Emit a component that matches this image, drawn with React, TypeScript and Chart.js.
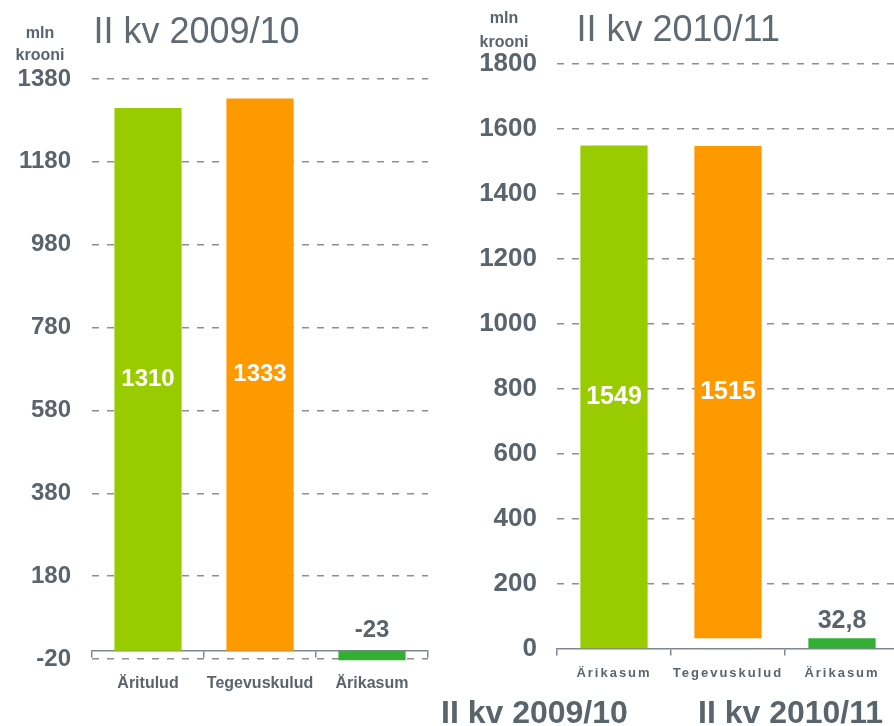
import React, { useEffect, useRef } from "react";
import { Chart, registerables } from "chart.js";

Chart.register(...registerables);

// ---- data ----
const leftCategories = ["Äritulud", "Tegevuskulud", "Ärikasum"];
const leftValues = [1310, 1333, -23];
const leftTicks = [-20, 180, 380, 580, 780, 980, 1180, 1380];
const leftLabelPlacement = ["inside", "inside", "above"];

const rightCategories = ["Ärikasum", "Tegevuskulud", "Ärikasum"];
const rightValues = [1549, 1515, 32.8];
const rightTicks = [0, 200, 400, 600, 800, 1000, 1200, 1400, 1600, 1800];
const rightLabelPlacement = ["inside", "inside", "above"];

const leftTitle = "II kv 2009/10";
const rightTitle = "II kv 2010/11";
const unitLines = ["mln", "krooni"];
const bottomLabels = ["II kv 2009/10", "II kv 2010/11"];

const barColors = ["#99cc00", "#ff9900", "#33b033"];
const TEXT = "#5a646c";
const GRID = "#8f8f8f";
const AXIS = "#7d878d";
const FONT = '"Liberation Sans", Arial, Helvetica, sans-serif';

const fmt = (v: number) => String(v).replace(".", ",");

// build floating bars from values
const leftBars = leftValues.map((v) => [0, v]);
const rightBars = [
  [0, rightValues[0]],
  [rightValues[2], rightValues[2] + rightValues[1]],
  [0, rightValues[2]],
];

const valueLabels = {
  id: "valueLabels",
  afterDatasetsDraw(chart: any, _args: any, opts: any) {
    const { ctx } = chart;
    const meta = chart.getDatasetMeta(0);
    meta.data.forEach((bar: any, i: number) => {
      const p = bar.getProps(["x", "y", "base"], true);
      const text = opts.texts[i];
      ctx.save();
      ctx.font = `bold ${opts.size}px ${FONT}`;
      ctx.textAlign = "center";
      if (opts.placement[i] === "inside") {
        ctx.fillStyle = "#ffffff";
        ctx.textBaseline = "middle";
        ctx.fillText(text, p.x, (p.y + p.base) / 2);
      } else {
        ctx.fillStyle = TEXT;
        ctx.textBaseline = "alphabetic";
        ctx.fillText(text, p.x, Math.min(p.y, p.base) - opts.offset);
      }
      ctx.restore();
    });
    if (opts.letterSpacing) ctx.letterSpacing = opts.letterSpacing;
  },
  afterDraw(chart: any) {
    chart.ctx.letterSpacing = "0px";
  },
};

function makeConfig(o: {
  categories: string[];
  bars: number[][];
  ticks: number[];
  yWidth: number;
  yFont: number;
  yPad: number;
  xFont: number;
  xPad: number;
  padding: any;
  barPct: number;
  labels: any;
}) {
  return {
    type: "bar",
    data: {
      labels: o.categories,
      datasets: [
        {
          data: o.bars,
          backgroundColor: barColors,
          borderWidth: 0,
          barPercentage: o.barPct,
          categoryPercentage: 1,
          clip: false,
        },
      ],
    },
    options: {
      responsive: false,
      animation: false,
      devicePixelRatio: 1,
      layout: { padding: o.padding },
      plugins: {
        legend: { display: false },
        tooltip: { enabled: false },
        title: { display: false },
        valueLabels: o.labels,
      },
      scales: {
        x: {
          type: "category",
          position: { y: 0 },
          offset: true,
          afterFit: (s: any) => {
            s.height = 0;
          },
          grid: {
            display: true,
            offset: true,
            drawOnChartArea: false,
            drawTicks: true,
            tickLength: 6,
            color: AXIS,
            lineWidth: 1.5,
          },
          border: { display: true, color: AXIS, width: 1.5 },
          ticks: {
            color: TEXT,
            font: { family: FONT, size: o.xFont, weight: "bold" },
            padding: o.xPad,
            maxRotation: 0,
            autoSkip: false,
            z: 1,
          },
        },
        y: {
          type: "linear",
          min: o.ticks[0],
          max: o.ticks[o.ticks.length - 1],
          afterBuildTicks: (s: any) => {
            s.ticks = o.ticks.map((v) => ({ value: v }));
          },
          afterFit: (s: any) => {
            s.width = o.yWidth;
          },
          grid: {
            drawTicks: false,
            lineWidth: 1.5,
            color: (c: any) =>
              c.tick && c.tick.value === 0 ? "rgba(0,0,0,0)" : GRID,
          },
          border: { display: false, dash: [7, 8] },
          ticks: {
            color: TEXT,
            padding: o.yPad,
            font: { family: FONT, size: o.yFont, weight: "bold" },
            callback: (v: any) => fmt(v),
          },
        },
      },
    },
    plugins: [valueLabels],
  } as any;
}

export default function App() {
  const leftRef = useRef<HTMLCanvasElement>(null);
  const rightRef = useRef<HTMLCanvasElement>(null);

  useEffect(() => {
    const left = new Chart(
      leftRef.current as HTMLCanvasElement,
      makeConfig({
        categories: leftCategories,
        bars: leftBars,
        ticks: leftTicks,
        yWidth: 92,
        yFont: 24,
        yPad: 21,
        xFont: 16,
        xPad: 17,
        padding: { top: 79, right: 19, bottom: 67, left: 0 },
        barPct: 0.6,
        labels: {
          texts: leftValues.map(fmt),
          placement: leftLabelPlacement,
          size: 24,
          offset: 14,
        },
      })
    );
    const right = new Chart(
      rightRef.current as HTMLCanvasElement,
      makeConfig({
        categories: rightCategories,
        bars: rightBars,
        ticks: rightTicks,
        yWidth: 110,
        yFont: 26,
        yPad: 20,
        xFont: 13,
        xPad: 11,
        padding: { top: 64, right: 8, bottom: 77, left: 0 },
        barPct: 0.59,
        labels: {
          texts: rightValues.map(fmt),
          placement: rightLabelPlacement,
          size: 25,
          offset: 10,
          letterSpacing: "2px",
        },
      })
    );
    return () => {
      left.destroy();
      right.destroy();
    };
  }, []);

  const abs = (s: any) => ({ position: "absolute" as const, whiteSpace: "nowrap" as const, ...s });

  return (
    <div
      style={{
        position: "absolute",
        left: 0,
        top: 0,
        width: 894,
        height: 726,
        overflow: "hidden",
        background: "#ffffff",
        fontFamily: FONT,
      }}
    >
      <canvas ref={leftRef} width={447} height={726} style={{ position: "absolute", left: 0, top: 0 }} />
      <canvas ref={rightRef} width={460} height={726} style={{ position: "absolute", left: 447, top: 0 }} />

      <div style={abs({ left: 93.5, top: 12.5, fontSize: 36, lineHeight: "36px", color: "#5f6a72" })}>{leftTitle}</div>
      <div style={abs({ left: 576.5, top: 11, fontSize: 36, lineHeight: "36px", color: "#5f6a72" })}>{rightTitle}</div>

      <div style={abs({ left: 0, width: 80, top: 21.5, fontSize: 16, lineHeight: "22px", fontWeight: "bold", color: TEXT, textAlign: "center" })}>
        {unitLines[0]}
        <br />
        {unitLines[1]}
      </div>
      <div style={abs({ left: 464, width: 80, top: 6, fontSize: 16, lineHeight: "23.5px", fontWeight: "bold", color: TEXT, textAlign: "center" })}>
        {unitLines[0]}
        <br />
        {unitLines[1]}
      </div>

      <div style={abs({ left: 441, top: 695.8, fontSize: 32, lineHeight: "32px", fontWeight: "bold", color: TEXT })}>{bottomLabels[0]}</div>
      <div style={abs({ left: 698, top: 695.8, fontSize: 32, lineHeight: "32px", fontWeight: "bold", color: TEXT })}>{bottomLabels[1]}</div>
    </div>
  );
}
